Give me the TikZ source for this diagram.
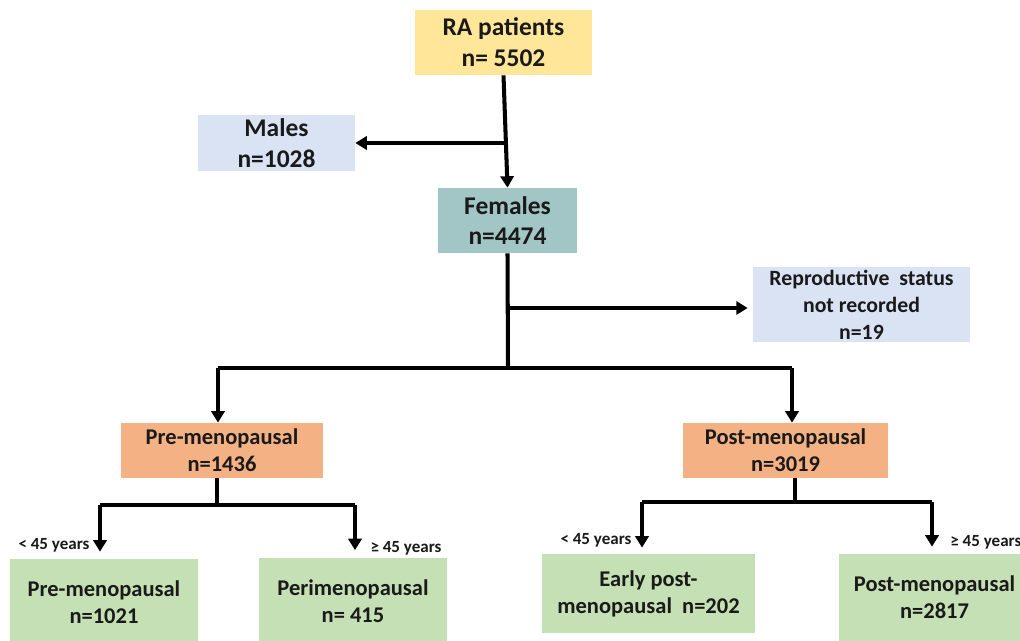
\documentclass[tikz,border=0pt]{standalone}
\usepackage{fontspec}
\setmainfont{Carlito}
\usetikzlibrary{arrows.meta}
\definecolor{cyellow}{HTML}{FFE699}
\definecolor{cblue}{HTML}{DAE3F3}
\definecolor{cteal}{HTML}{A2C6C6}
\definecolor{corange}{HTML}{F4B183}
\definecolor{cgreen}{HTML}{C5E0B4}
\definecolor{ctext}{HTML}{1A1A1A}
\tikzset{
  box/.style={rectangle, inner sep=0pt, align=center, text=ctext, font=\bfseries},
  bigtxt/.style={font=\fontsize{14.5}{17.5}\selectfont\bfseries},
  midtxt/.style={font=\fontsize{12.8}{15.3}\selectfont\bfseries},
  reptxt/.style={font=\fontsize{12.4}{15.3}\selectfont\bfseries},
  agelbl/.style={inner sep=0pt, text=ctext, font=\fontsize{9.7}{11}\selectfont\bfseries},
  conn/.style={line width=2.3pt, draw=black},
  arr/.style={conn, -{Triangle[width=7.5pt,length=6.5pt]}},
}
\begin{document}
\begin{tikzpicture}[x=0.02cm, y=-0.02cm]
\clip (0,0) rectangle (1020,641);
\fill[white] (0,0) rectangle (1020,641);
% boxes
\node[box, bigtxt, fill=cyellow, minimum width=3.54cm, minimum height=1.30cm] (ra) at (503.5,42.5) {RA patients\\n= 5502};
\node[box, bigtxt, fill=cblue, minimum width=3.14cm, minimum height=1.12cm] (males) at (276.5,143) {Males\\n=1028};
\node[box, bigtxt, fill=cteal, minimum width=2.78cm, minimum height=1.30cm] (fem) at (507.5,220.5) {Females\\n=4474};
\node[box, reptxt, fill=cblue, minimum width=4.34cm, minimum height=1.50cm] (repro) at (861.5,304.5) {Reproductive\ \ status\\not recorded\\n=19};
\node[box, midtxt, fill=corange, minimum width=4.04cm, minimum height=1.10cm] (pre) at (222,450.5) {Pre-menopausal\\n=1436};
\node[box, midtxt, fill=corange, minimum width=4.10cm, minimum height=1.10cm] (post) at (785.5,450.5) {Post-menopausal\\n=3019};
\node[box, midtxt, fill=cgreen, minimum width=3.76cm, minimum height=1.72cm] (g1) at (104,602) {Pre-menopausal\\n=1021};
\node[box, midtxt, fill=cgreen, minimum width=3.76cm, minimum height=1.74cm] (g2) at (353,601.5) {Perimenopausal\\n= 415};
\node[box, midtxt, fill=cgreen, minimum width=4.26cm, minimum height=1.58cm] (g3) at (648.5,593.5) {Early post-\\menopausal\ \ n=202};
\node[box, midtxt, fill=cgreen, minimum width=3.82cm, minimum height=1.74cm] (g4) at (934.5,597.5) {Post-menopausal\\n=2817};
% age labels
\node[agelbl] (la1) at (54,545) {< 45 years};
\node[agelbl] (la2) at (406,548) {≥ 45 years};
\node[agelbl] (la3) at (596,540) {< 45 years};
\node[agelbl, anchor=west] (la4) at (950,542) {≥ 45 years};
% junction coordinates
\coordinate (b1) at (505,143);
\coordinate (j1) at (508,368);
\coordinate (b2) at (508,308);
\coordinate (pl) at (218,368);
\coordinate (pr) at (792,368);
\coordinate (j2) at (217,505);
\coordinate (l1) at (100,505);
\coordinate (r1) at (355,505);
\coordinate (j3) at (795,502);
\coordinate (l2) at (642,502);
\coordinate (r2) at (932,502);
% connectors
\draw[arr] (ra.south) -- (fem.north);
\draw[arr] (b1) -- (b1 -| males.east);
\draw[conn] (fem.south) -- (j1);
\draw[arr, shorten >=0.1cm] (b2) -- (b2 -| repro.west);
\draw[conn] (pl) -- (pr);
\draw[arr] (pl) -- (pl |- pre.north);
\draw[arr] (pr) -- (pr |- post.north);
\draw[conn] (pre.south -| j2) -- (j2);
\draw[conn] (l1) -- (r1);
\draw[arr, shorten >=0.14cm] (l1) -- (l1 |- g1.north);
\draw[arr, shorten >=0.15cm] (r1) -- (r1 |- g2.north);
\draw[conn] (post.south -| j3) -- (j3);
\draw[conn] (l2) -- (r2);
\draw[arr, shorten >=0.12cm] (l2) -- (l2 |- g3.north);
\draw[arr, shorten >=0.14cm] (r2) -- (r2 |- g4.north);
\end{tikzpicture}
\end{document}
